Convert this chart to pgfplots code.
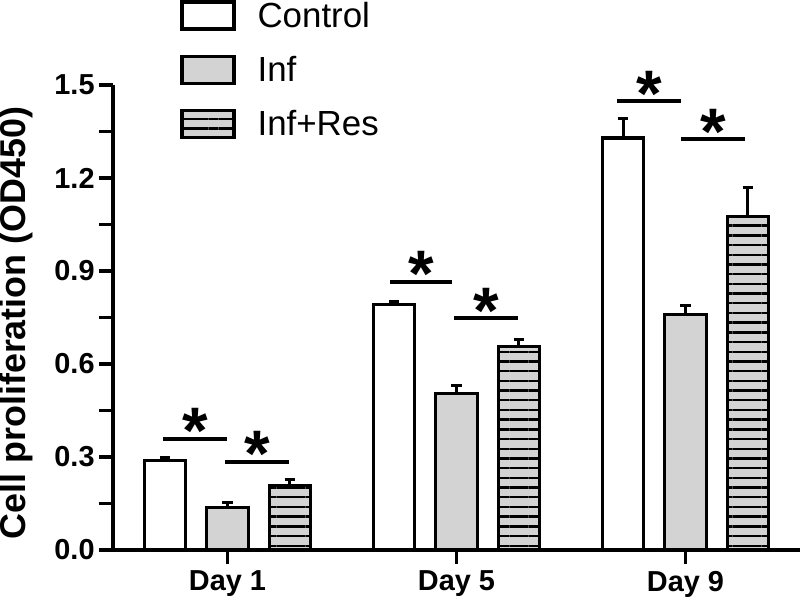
\documentclass[border=0pt]{standalone}
\usepackage{fontspec}
\setmainfont{Liberation Sans}
\usepackage{pgfplots}
\pgfplotsset{compat=1.18}
\usetikzlibrary{patterns.meta}
\definecolor{infgray}{RGB}{211,211,211}
\pgfplotsset{
  barleg/.style={legend image code/.code={\draw[##1, line width=1.6bp] (0bp,-6.5bp) rectangle (26bp,7bp);}},
  errs/.style={error bars/.cd, y dir=plus, y explicit,
    error bar style={line width=1.5bp, black},
    error mark options={rotate=90, mark size=2.6bp, line width=1.5bp, black}},
  mybar/.style={ybar, bar width=0.18, bar shift=0pt, draw=black, line width=1.6bp},
}
\begin{document}
\begin{tikzpicture}
\begin{axis}[
  at={(0,0)}, anchor=south west,
  scale only axis, width=343.5bp, height=232.5bp,
  xmin=0.5, xmax=3.5, ymin=0, ymax=1.5,
  axis x line*=bottom, axis y line*=left, axis line style={-, line width=1.6bp},
  clip=false,
  xtick={1,2,3}, xticklabels={Day 1, Day 5, Day 9},
  ytick={0,0.15,0.3,0.45,0.6,0.75,0.9,1.05,1.2,1.35,1.5},
  yticklabels={0.0,{},0.3,{},0.6,{},0.9,{},1.2,{},1.5},
  tick align=outside, major tick length=7bp,
  major tick style={draw=black, line width=1.6bp},
  yticklabel style={inner sep=2bp},
  ticklabel style={font=\fontsize{14.5}{16}\selectfont\bfseries},
  ylabel={Cell proliferation (OD450)},
  ylabel style={at={(axis description cs:-0.141,0.488)}, anchor=center, font=\fontsize{18}{20}\selectfont\bfseries},
  legend style={at={(axis description cs:0.0975,1.188)}, anchor=north west, draw=none, fill=none, inner sep=0pt,
    font=\fontsize{17.5}{20}\selectfont, row sep=9bp,
    /tikz/every odd column/.append style={column sep=9bp}},
  legend cell align=left,
]
\addplot[mybar, fill=white, barleg, errs]
  coordinates {(0.728,0.288) +- (0,0.012) (1.728,0.792) +- (0,0.008) (2.728,1.329) +- (0,0.064)};
\addlegendentry{Control}
\addplot[mybar, fill=infgray, barleg, errs]
  coordinates {(1.0,0.136) +- (0,0.016) (2.0,0.504) +- (0,0.026) (3.0,0.760) +- (0,0.029)};
\addlegendentry{Inf}
\addplot[mybar, fill=infgray,
  postaction={pattern={Lines[angle=0,distance=4.85bp,line width=1.2bp]}, pattern color=black}, barleg, errs]
  coordinates {(1.272,0.207) +- (0,0.019) (2.272,0.657) +- (0,0.022) (3.272,1.077) +- (0,0.093)};
\addlegendentry{Inf+Res}
% axis ticks (7bp long, outside)
\pgfplotsinvokeforeach{0,0.15,0.3,0.45,0.6,0.75,0.9,1.05,1.2,1.35,1.5}{
  \draw[line width=1.6bp] (axis cs:0.5,#1) -- (axis cs:0.4389,#1);
}
\pgfplotsinvokeforeach{1,2,3}{
  \draw[line width=1.6bp] (axis cs:#1,0) -- (axis cs:#1,-0.0452);
}
% significance bars
\draw[line width=2bp] (axis cs:0.72,0.359) -- (axis cs:1.0,0.359);
\draw[line width=2bp] (axis cs:0.99,0.285) -- (axis cs:1.27,0.285);
\draw[line width=2bp] (axis cs:1.71,0.866) -- (axis cs:1.98,0.866);
\draw[line width=2bp] (axis cs:1.99,0.747) -- (axis cs:2.27,0.747);
\draw[line width=2bp] (axis cs:2.70,1.448) -- (axis cs:2.98,1.448);
\draw[line width=2bp] (axis cs:2.98,1.326) -- (axis cs:3.26,1.326);
\begin{scope}[every node/.style={anchor=base, inner sep=0pt, yshift=-7.6bp, font=\fontsize{33}{35}\selectfont\bfseries}]
\node at (axis cs:0.86,0.359) {*};
\node at (axis cs:1.13,0.285) {*};
\node at (axis cs:1.845,0.866) {*};
\node at (axis cs:2.13,0.747) {*};
\node at (axis cs:2.84,1.448) {*};
\node at (axis cs:3.12,1.326) {*};
\end{scope}
\end{axis}
\pgfresetboundingbox
\path[use as bounding box] (-56.5bp,-27bp) rectangle (343.5bp,275bp);
\end{tikzpicture}
\end{document}
